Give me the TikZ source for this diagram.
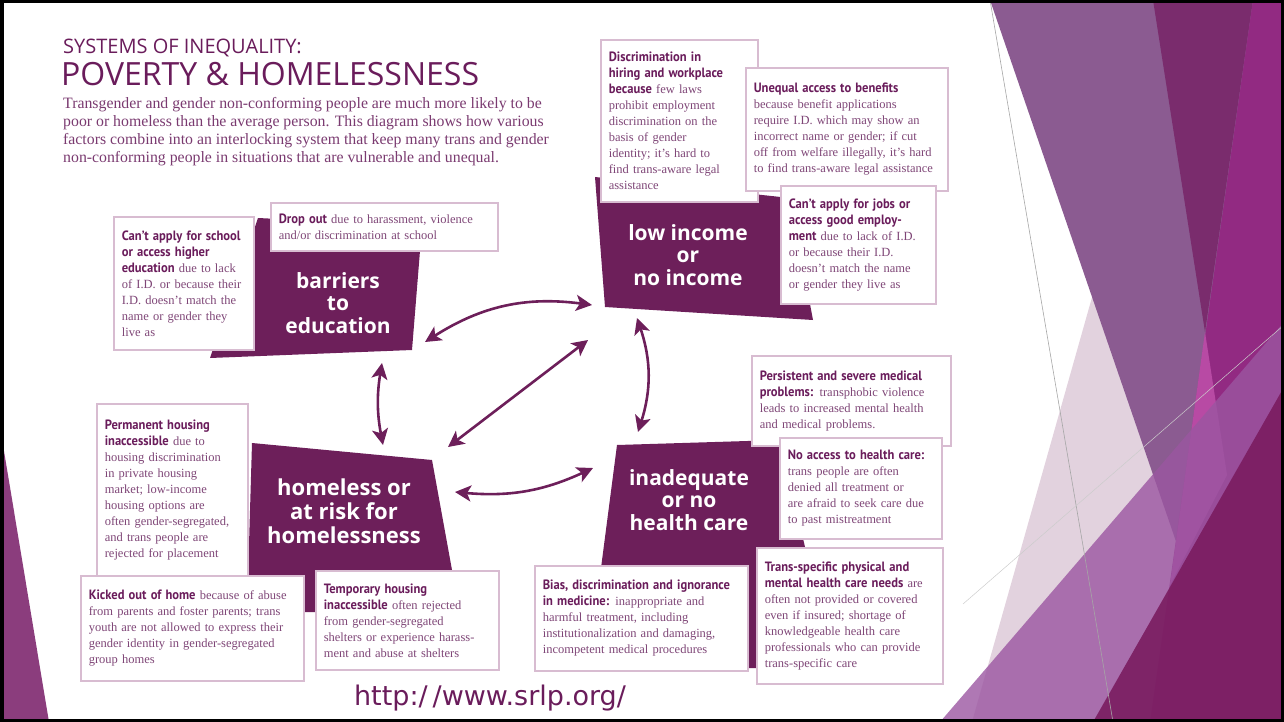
\documentclass[tikz,border=0pt]{standalone}
\usepackage{fontspec}
\setmainfont{Liberation Serif}
\newfontfamily\headfont[FakeStretch=0.93]{PT Sans}
\newfontfamily\labelfont{Open Sans}
\newfontfamily\urlfont{DejaVu Sans}
\usetikzlibrary{arrows.meta}

\definecolor{plum}{HTML}{6D1F5A}
\definecolor{boxline}{HTML}{D8BCD1}
\definecolor{headtxt}{HTML}{6A1C5B}
\definecolor{bodytxt}{HTML}{7F4677}
\definecolor{introtxt}{HTML}{7A3A70}
\definecolor{facetpink}{HTML}{E2D2DE}
\definecolor{facetlav}{HTML}{8B5B91}
\definecolor{facetplum}{HTML}{7A2C6D}
\definecolor{facetmag}{HTML}{922A82}
\definecolor{facetbright}{HTML}{B84AA4}
\definecolor{facetpur}{HTML}{9B56A1}
\definecolor{facetdeep}{HTML}{7A1C60}
\definecolor{facetleft}{HTML}{8B3D7D}

\newcommand{\boxhead}[1]{{\headfont\bfseries\fontsize{13.5}{16}\selectfont\color{headtxt}#1}}

\begin{document}
\begin{tikzpicture}[x=1pt, y=-1pt,
   infobox/.style={draw=boxline, line width=1.6pt, fill=white, anchor=north west,
      inner xsep=8pt, inner ysep=3pt, align=left, text=bodytxt,
      font=\fontsize{12.5}{16}\selectfont,
      execute at begin node={\hyphenpenalty=10000\exhyphenpenalty=10000}},
   biglabel/.style={text=white, align=center,
      font=\labelfont\bfseries\fontsize{21}{22.5}\selectfont},
   link/.style={plum, line width=2.6pt,
      {Stealth[length=16pt,width=16pt,inset=4pt]}-{Stealth[length=16pt,width=16pt,inset=4pt]}}]
   \useasboundingbox (0,0) rectangle (1284,722);

   % Slide backdrop
   \begin{scope}
      \clip (3,3) rectangle (1281,719);
      \fill[facetpink] (972,722) -- (1176,0) -- (1284,0) -- (1284,722) -- cycle;
      \fill[facetlav] (990,0) -- (1284,0) -- (1284,722) -- (1238,722) -- cycle;
      \fill[facetplum] (1153,0) -- (1253,0) -- (1205,332) -- cycle;
      \fill[facetmag] (1253,0) -- (1284,0) -- (1284,722) -- (1150,722) -- cycle;
      \fill[facetbright] (1205,332) -- (1227,475) -- (1170,585) -- cycle;
      \fill[facetpur, opacity=0.8] (940,722) -- (1284,322) -- (1284,722) -- cycle;
      \fill[facetdeep, opacity=0.9] (1093,722) -- (1284,387) -- (1284,722) -- cycle;
      \draw[gray!70, line width=0.6pt] (990,0) -- (1113,722);
      \draw[gray!40, line width=0.5pt] (963,604) -- (1284,325);
      \fill[facetleft] (3,445) -- (49,722) -- (3,722) -- cycle;
   \end{scope}

   % Heading
   \node[anchor=base west, inner sep=0, text=headtxt, font=\labelfont\fontsize{20}{20}\selectfont] (syst) at (63,54) {SYSTEMS OF INEQUALITY:};
   \node[anchor=base west, inner sep=0, text=headtxt, font=\labelfont\fontsize{32}{32}\selectfont] (povt) at (61,86) {POVERTY \& HOMELESSNESS};
   \node[anchor=north west, inner sep=0, align=left, text=introtxt, font=\fontsize{15.8}{18}\selectfont] (intro) at (63,97)
      {Transgender and gender non-conforming people are much more likely to be\\
       poor or homeless than the average person. This diagram shows how various\\
       factors combine into an interlocking system that keep many trans and gender\\
       non-conforming people in situations that are vulnerable and unequal.};

   % Dark panels behind the labels
   \fill[plum] (595,177) -- (790,198) -- (813,320) -- (605,307) -- cycle;
   \fill[plum] (258,218) -- (422,226) -- (412,350) -- (210,358) -- cycle;
   \fill[plum] (252,443) -- (432,460) -- (452,570) -- (440,612) -- (247,612) -- cycle;
   \fill[plum] (617,445) -- (780,440) -- (805,547) -- (800,668) -- (588,668) -- cycle;

   % Income
   \node[infobox, text width=141pt, minimum height=162pt] (hire) at (600,39)
      {\boxhead{Discrimination in}\\ \boxhead{hiring and workplace}\\ \boxhead{because} few laws\\
       prohibit employment\\ discrimination on the\\ basis of gender\\ identity; it’s hard to\\
       find trans-aware legal\\ assistance};
   \node[infobox, text width=186pt, minimum height=123pt] (benefit) at (745,67)
      {\boxhead{Unequal access to benefits}\\ because benefit applications\\ require I.D. which may show an\\
       incorrect name or gender; if cut\\ off from welfare illegally, it’s hard\\
       to find trans-aware legal assistance};
   \node[infobox, text width=139pt, minimum height=118pt] (jobs) at (780,185)
      {\boxhead{Can’t apply for jobs or}\\ \boxhead{access good employ-}\\ \boxhead{ment} due to lack of I.D.\\
       or because their I.D.\\ doesn’t match the name\\ or gender they live as};

   % Education
   \node[infobox, text width=124pt, minimum height=133pt] (school) at (113,216)
      {\boxhead{Can’t apply for school}\\ \boxhead{or access higher}\\ \boxhead{education} due to lack\\
       of I.D. or because their\\ I.D. doesn’t match the\\ name or gender they\\ live as};
   \node[infobox, text width=211pt, minimum height=48pt] (dropout) at (270,202)
      {\boxhead{Drop out} due to harassment, violence\\ and/or discrimination at school};

   % Housing
   \node[infobox, text width=135pt, minimum height=172pt] (perm) at (96,403)
      {\boxhead{Permanent housing}\\ \boxhead{inaccessible} due to\\ housing discrimination\\
       in private housing\\ market; low-income\\ housing options are\\ often gender-segregated,\\
       and trans people are\\ rejected for placement};
   \node[infobox, text width=207pt, minimum height=105pt] (kicked) at (80,575)
      {\boxhead{Kicked out of home} because of abuse\\ from parents and foster parents; trans\\
       youth are not allowed to express their\\ gender identity in gender-segregated\\ group homes};
   \node[infobox, text width=167pt, minimum height=99pt] (temp) at (315,570)
      {\boxhead{Temporary housing}\\ \boxhead{inaccessible} often rejected\\ from gender-segregated\\
       shelters or experience harass-\\ ment and abuse at shelters};

   % Health
   \node[infobox, text width=197pt, minimum height=105pt] (bias) at (534,565)
      {\boxhead{Bias, discrimination and ignorance}\\ \boxhead{in medicine:} inappropriate and\\
       harmful treatment, including\\ institutionalization and damaging,\\ incompetent medical procedures};
   \node[infobox, text width=183pt, minimum height=90pt] (severe) at (751,355)
      {\boxhead{Persistent and severe medical}\\ \boxhead{problems:} transphobic violence\\
       leads to increased mental health\\ and medical problems.};
   \node[infobox, text width=146pt, minimum height=101pt] (noaccess) at (779,437)
      {\boxhead{No access to health care:}\\ trans people are often\\ denied all treatment or\\
       are afraid to seek care due\\ to past mistreatment};
   \node[infobox, text width=170pt, minimum height=136pt] (transneed) at (756,547)
      {\boxhead{Trans-specific physical and}\\ \boxhead{mental health care needs} are\\
       often not provided or covered\\ even if insured; shortage of\\ knowledgeable health care\\
       professionals who can provide\\ trans-specific care};

   % Labels
   \node[biglabel] (lowinc) at (688,255) {low income\\or\\no income};
   \node[biglabel] (educ) at (338,303) {barriers\\to\\education};
   \node[biglabel, font=\labelfont\bfseries\fontsize{22}{24}\selectfont] (homeless) at (344,511) {homeless or\\at risk for\\homelessness};
   \node[biglabel] (health) at (689,500) {inadequate\\or no\\health care};

   % Arrow ends
   \coordinate (educ-ne) at (425,342);
   \coordinate (inc-w) at (592,305);
   \coordinate (educ-s) at (382,363);
   \coordinate (home-n) at (383,445);
   \coordinate (home-ne) at (448,447);
   \coordinate (inc-sw) at (588,340);
   \coordinate (inc-s) at (637,318);
   \coordinate (hlth-n) at (638,432);
   \coordinate (home-e) at (455,492);
   \coordinate (hlth-w) at (593,468);

   % Links
   \draw[link] (educ-ne) to[bend left=20] (inc-w);
   \draw[link] (educ-s) to[bend right=10] (home-n);
   \draw[link] (home-ne) -- (inc-sw);
   \draw[link] (inc-s) to[bend left=18] (hlth-n);
   \draw[link] (home-e) to[bend right=15] (hlth-w);

   \node[text=headtxt, font=\urlfont\fontsize{27}{27}\selectfont] (url) at (490,698) {http:/\kern5pt/www.srlp.org/};

   % Frame
   \draw[line width=3.5pt] (1.75,1.75) rectangle (1282.25,720.25);
\end{tikzpicture}
\end{document}
